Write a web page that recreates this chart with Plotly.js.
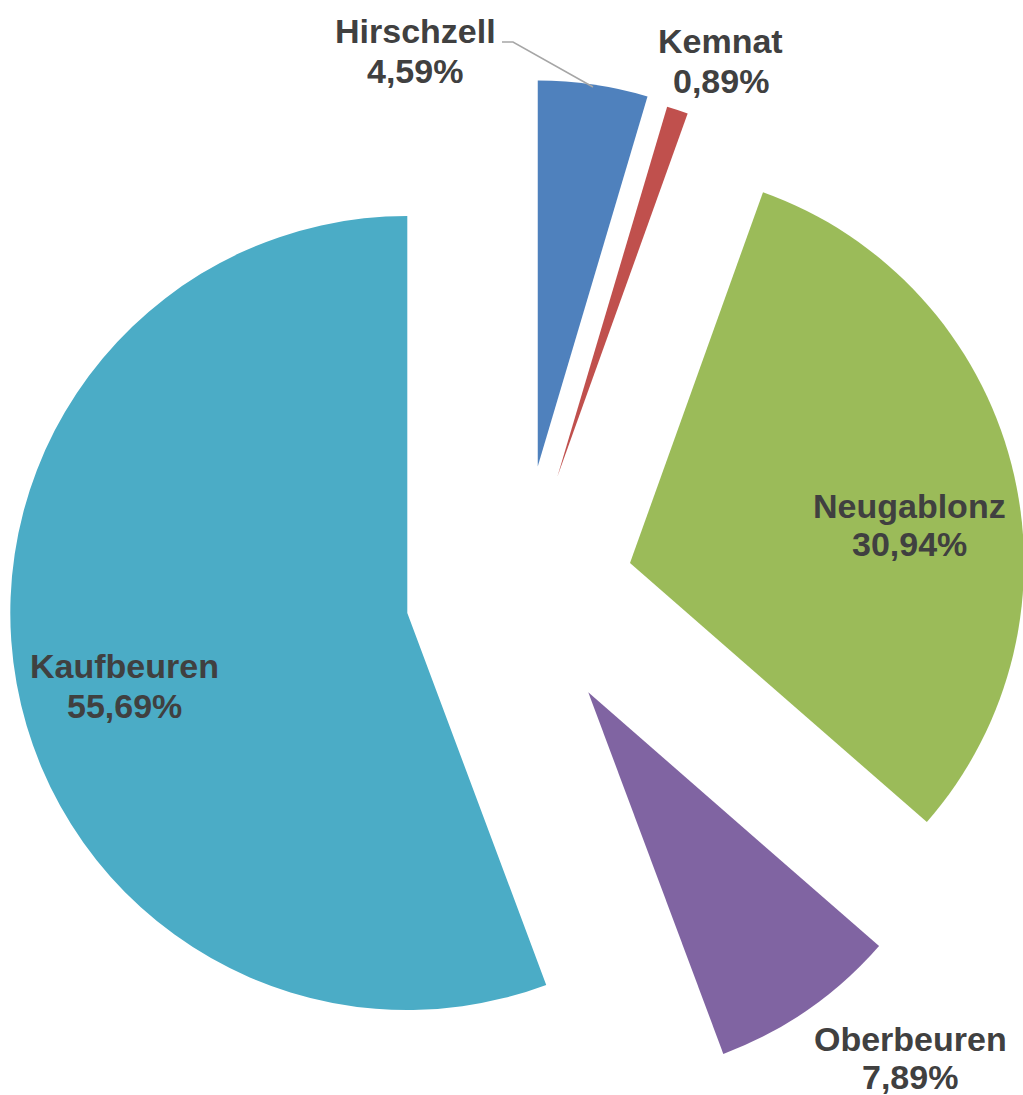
<!DOCTYPE html>
<html><head><meta charset="utf-8">
<script src="https://cdn.plot.ly/plotly-3.0.1.min.js"></script>
<style>
html,body{margin:0;padding:0;overflow:hidden;background:#fff;width:1023px;height:1095px}
#chart{position:absolute;left:0;top:0;width:1100px;height:1120px}
</style>
</head><body><div id="chart"></div>
<script>
// ---- data ----
const districts = ['Hirschzell', 'Kemnat', 'Neugablonz', 'Oberbeuren', 'Kaufbeuren'];
const shares = [4.59, 0.89, 30.94, 7.89, 55.69];
const shareText = ['4,59%', '0,89%', '30,94%', '7,89%', '55,69%'];
const colors = ['#4F81BD', '#C0504D', '#9BBB59', '#8064A2', '#4BACC6'];

// ---- layout geometry (pixels) ----
const W = 1100, H = 1120;
const mainCenter = [519.4, 592.8], mainR = 386;
const explodePx = [127.5, 122, 0, 121, 0];
// slices drawn around their own centres: index -> [centre, radius]
const ownCentre = {2: [[630, 563], 394], 4: [[407.3, 613], 397]};
const nameY = [31, 41, 506, 1039, 666];
const valueY = [71, 81, 544, 1077, 706];
const labelX = [415, 721, 909, 910, 124];
const leader = [[502, 42], [513, 42], [593, 87]];

function domainFor(c, r, maxPull) {
  const s = r * (1 + maxPull);
  return {x: [(c[0] - s) / W, (c[0] + s) / W], y: [1 - (c[1] + s) / H, 1 - (c[1] - s) / H]};
}
const px = v => v / W, py = v => 1 - v / H;
const transparent = 'rgba(0,0,0,0)';

const pulls = explodePx.map(d => d / mainR);
const maxPull = Math.max(...pulls);
const traces = [{
  type: 'pie', labels: districts, values: shares, sort: false,
  direction: 'clockwise', rotation: 0, pull: pulls,
  marker: {colors: colors.map((c, i) => (i in ownCentre) ? transparent : c), line: {width: 0}},
  textinfo: 'none', hoverinfo: 'none', showlegend: false,
  domain: domainFor(mainCenter, mainR, maxPull)
}];
Object.keys(ownCentre).forEach(k => {
  const idx = +k, [c, r] = ownCentre[k];
  traces.push({
    type: 'pie', labels: districts, values: shares, sort: false,
    direction: 'clockwise', rotation: 0,
    marker: {colors: colors.map((col, i) => i === idx ? col : transparent), line: {width: 0}},
    textinfo: 'none', hoverinfo: 'none', showlegend: false,
    domain: domainFor(c, r, 0)
  });
});

const font = {family: '"Liberation Sans", Arial, sans-serif', size: 34, color: '#404040'};
const annotations = [];
districts.forEach((d, i) => {
  annotations.push({xref: 'paper', yref: 'paper', x: px(labelX[i]), y: py(nameY[i]),
    xanchor: 'center', yanchor: 'middle', showarrow: false, text: '<b>' + d + '</b>', font});
  annotations.push({xref: 'paper', yref: 'paper', x: px(labelX[i]), y: py(valueY[i]),
    xanchor: 'center', yanchor: 'middle', showarrow: false, text: '<b>' + shareText[i] + '</b>', font});
});

const shapes = [{
  type: 'path', xref: 'paper', yref: 'paper',
  path: leader.map((p, i) => (i ? 'L ' : 'M ') + px(p[0]) + ',' + py(p[1])).join(' '),
  line: {color: '#A6A6A6', width: 1.5}
}];

Plotly.newPlot('chart', traces, {
  width: W, height: H, margin: {l: 0, r: 0, t: 0, b: 0},
  paper_bgcolor: '#fff', showlegend: false, annotations, shapes
}, {displayModeBar: false, staticPlot: true});
</script>
</body></html>
